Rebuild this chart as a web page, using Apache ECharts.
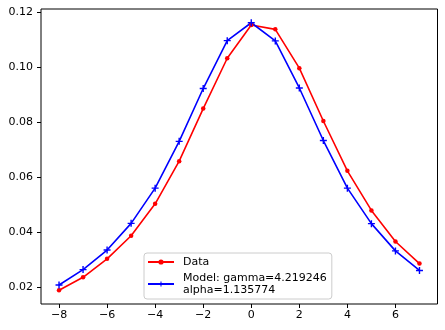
<!DOCTYPE html>
<html>
<head>
<meta charset="utf-8">
<script src="https://cdn.jsdelivr.net/npm/echarts@6/dist/echarts.min.js"></script>
<style>
  html, body { margin: 0; padding: 0; background: #ffffff; }
  #chart { width: 445px; height: 330px; }
</style>
</head>
<body>
<div id="chart"></div>
<script>
// Sample positions and the two curves
const xValues = [-8, -7, -6, -5, -4, -3, -2, -1, 0, 1, 2, 3, 4, 5, 6, 7];
const dataValues = [0.0190, 0.0237, 0.0304, 0.0388, 0.0504, 0.0659, 0.0850, 0.1033,
                    0.1154, 0.1138, 0.0997, 0.0805, 0.0624, 0.0480, 0.0367, 0.0287];
const modelValues = [0.0209, 0.0265, 0.0336, 0.0433, 0.0561, 0.0731, 0.0923, 0.1097,
                     0.1162, 0.1096, 0.0925, 0.0734, 0.0561, 0.0432, 0.0333, 0.0262];

// Series names and tick labels
const dataName = 'Data';
const modelName = 'Model: gamma=4.219246\nalpha=1.135774';
const xTicks = [-8, -6, -4, -2, 0, 2, 4, 6];
const yTicks = [0.02, 0.04, 0.06, 0.08, 0.10, 0.12];

const FONT = 'DejaVu Sans';
const toPairs = (ys) => xValues.map((x, i) => [x, ys[i]]);
const minus = (s) => String(s).replace('-', '\u2212');

// thin "+" marker
const plusPath = 'path://M-1,-0.2H1V0.2H-1Z M-0.2,-1H0.2V1H-0.2Z';

const chart = echarts.init(document.getElementById('chart'), null, { renderer: 'canvas' });
chart.setOption({
  backgroundColor: '#ffffff',
  animation: false,
  grid: {
    left: 41, right: 7.5, top: 9, bottom: 26,
    show: true, borderColor: '#000000', borderWidth: 1, backgroundColor: 'transparent'
  },
  xAxis: {
    type: 'value',
    min: -8.75, max: 7.75,
    splitLine: { show: false },
    axisLine: { show: false, onZero: false },
    axisTick: { show: true, inside: false, length: 4, lineStyle: { color: '#000', width: 1 }, customValues: xTicks },
    axisLabel: {
      customValues: xTicks,
      margin: 6,
      color: '#000', fontFamily: FONT, fontSize: 11,
      formatter: (v) => minus(v)
    }
  },
  yAxis: {
    type: 'value',
    min: 0.0140, max: 0.1212,
    splitLine: { show: false },
    axisLine: { show: false, onZero: false },
    axisTick: { show: true, inside: false, length: 4, lineStyle: { color: '#000', width: 1 }, customValues: yTicks },
    axisLabel: {
      customValues: yTicks,
      margin: 8,
      color: '#000', fontFamily: FONT, fontSize: 11,
      formatter: (v) => v.toFixed(2)
    }
  },
  legend: {
    orient: 'vertical',
    left: 144, top: 253,
    padding: [3, 5, 3, 3],
    itemGap: 4,
    itemWidth: 26, itemHeight: 6.5,
    backgroundColor: 'rgba(255,255,255,0.8)',
    borderColor: '#cccccc', borderWidth: 1, borderRadius: 3,
    textStyle: { color: '#000', fontFamily: FONT, fontSize: 11, lineHeight: 12, padding: [0, 0, 0, 4] },
    data: [dataName, modelName]
  },
  series: [
    {
      name: dataName,
      type: 'line',
      data: toPairs(dataValues),
      symbol: 'circle',
      symbolSize: 4.5,
      showAllSymbol: true,
      lineStyle: { color: '#ff0000', width: 1.6 },
      itemStyle: { color: '#ff0000' }
    },
    {
      name: modelName,
      type: 'line',
      data: toPairs(modelValues),
      symbol: plusPath,
      symbolSize: 7,
      showAllSymbol: true,
      lineStyle: { color: '#0000ff', width: 1.6 },
      itemStyle: { color: '#0000ff' }
    }
  ]
});
</script>
</body>
</html>
